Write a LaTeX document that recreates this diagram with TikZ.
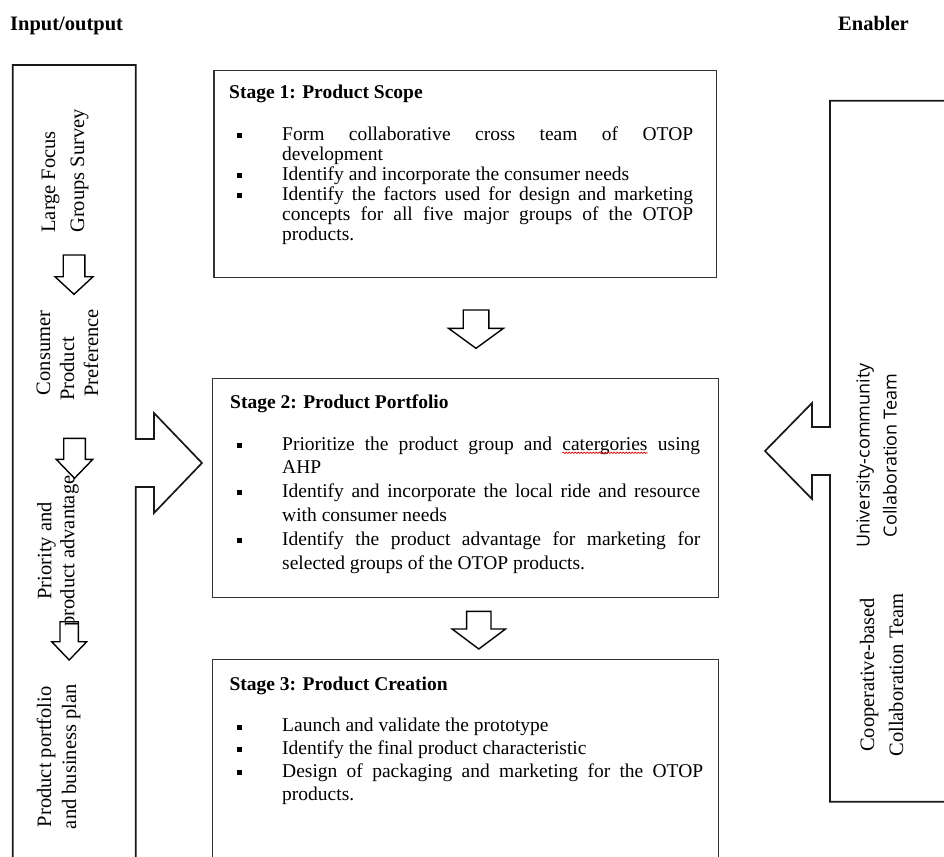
\documentclass[tikz,border=0pt]{standalone}
\usepackage{fontspec}
\setmainfont{Liberation Serif}
\newfontfamily\uisans{Open Sans}
\usetikzlibrary{decorations.pathmorphing}

% square bullet with a hanging gap before the item text
\newcommand\sqitem{\par\noindent\rule{0pt}{15pt}\llap{\rule[2.2pt]{5pt}{5.2pt}\hspace{39.8pt}}}
% word with a red wavy underline
\newcommand\squig[1]{\tikz[baseline=(w.base),x=1cm,y=1cm]{\node[inner sep=0pt,outer sep=0pt](w){#1};
  \draw[red!85!black,line width=0.7pt,decorate,decoration={snake,amplitude=0.7pt,segment length=3pt}]
  ([yshift=-2.8pt]w.base west) -- ([yshift=-2.8pt]w.base east);}}
% hollow block arrow pointing down: x, top y, shaft half width, head half width, shaft length, head length
\newcommand\hollowdown[6]{%
  \draw[hollow] (#1-#3,#2) -- (#1+#3,#2) -- (#1+#3,#2+#5) -- (#1+#4,#2+#5) -- (#1,#2+#5+#6)
    -- (#1-#4,#2+#5) -- (#1-#3,#2+#5) -- cycle;}

\tikzset{
  bracket/.style={draw=black!90,line width=1.7pt,line join=miter},
  stagebox/.style={draw=black!80,line width=1.2pt,inner sep=0pt,anchor=north west},
  hollow/.style={draw=black,line width=1.4pt,fill=white,line join=miter},
  heading/.style={font=\bfseries\fontsize{19.5}{20}\selectfont,inner sep=0pt,anchor=base west},
  colhead/.style={heading,font=\bfseries\fontsize{20.5}{21}\selectfont},
  items/.style={inner sep=0pt,anchor=north west,align=justify},
  sidetext/.style={rotate=90,align=center,inner sep=0pt},
}

\begin{document}
\begin{tikzpicture}[x=1pt,y=-1pt]
\useasboundingbox (0,0) rectangle (944,856);
\clip (0,0) rectangle (944,856);

% column headings
\node[colhead] (inout) at (10,31) {Input/output};
\node[colhead] (enabler) at (838,31) {Enabler};

% input/output bracket feeding stage 2
\draw[bracket] (12.7,875) -- (12.7,65) -- (135.7,65) -- (135.7,439) -- (154,439) -- (154,413)
  -- (202,463) -- (154,513) -- (154,487) -- (135.7,487) -- (135.7,875);

% enabler bracket feeding stage 2
\draw[bracket] (960,100.7) -- (830,100.7) -- (830,427) -- (812,427) -- (812,403) -- (765,451)
  -- (812,499) -- (812,475) -- (830,475) -- (830,801.7) -- (960,801.7);

% stage boxes
\node[stagebox,minimum width=502.7pt,minimum height=207pt] (stage1) at (213.3,70) {};
\node[stagebox,minimum width=506.3pt,minimum height=219pt] (stage2) at (211.7,378) {};
\node[stagebox,minimum width=506pt,minimum height=230pt] (stage3) at (212,659) {};

% flow between stages
\hollowdown{476}{310}{12.8}{27.5}{18.3}{20}
\hollowdown{478.8}{611.3}{12.2}{26.7}{17.7}{20}

% flow inside the input/output column
\hollowdown{74}{255}{10.8}{19}{21.7}{17.6}
\hollowdown{74.5}{438.3}{10.8}{18.3}{21}{19}
\hollowdown{69.2}{621.7}{9.2}{17.5}{20}{18.3}

% stage 1
\node[heading] (t1) at (229,99) {Stage 1: Product Scope};
\node[items,text width=411pt,font=\fontsize{19.5}{20}\selectfont] (i1) at (282,120) {%
\sqitem Form collaborative cross team of OTOP\linebreak development
\sqitem Identify and incorporate the consumer needs
\sqitem Identify the factors used for design and marketing\linebreak concepts for all five major groups of the OTOP\linebreak products.};

% stage 2
\node[heading] (t2) at (230,408.5) {Stage 2: Product Portfolio};
\node[items,text width=418pt,font=\fontsize{19.5}{23.8}\selectfont] (i2) at (282,426) {%
\sqitem Prioritize the product group and \squig{catergories} using\linebreak AHP
\sqitem Identify and incorporate the local ride and resource\linebreak with consumer needs
\sqitem Identify the product advantage for marketing for\linebreak selected groups of the OTOP products.};

% stage 3
\node[heading] (t3) at (229.3,690) {Stage 3: Product Creation};
\node[items,text width=421pt,font=\fontsize{19.5}{22.7}\selectfont] (i3) at (282,709) {%
\sqitem Launch and validate the prototype
\sqitem Identify the final product characteristic
\sqitem Design of packaging and marketing for the OTOP\linebreak products.};

% input/output column labels
\node[sidetext,font=\fontsize{20.5}{29}\selectfont] (focus) at (65,171) {Large Focus\rule{21.6pt}{0pt}\\Groups Survey};
\node[sidetext,font=\fontsize{20.5}{24}\selectfont] (pref) at (67.5,353) {Consumer\\Product\rule{32pt}{0pt}\\Preference};
\node[sidetext,font=\fontsize{20.5}{23}\selectfont] (prio) at (58,551) {Priority and\\product advantage};
\node[sidetext,font=\fontsize{20.5}{25}\selectfont] (plan) at (58.5,756.7) {Product portfolio\\and business plan};

% enabler column labels
\node[sidetext,font=\uisans\fontsize{18}{27}\selectfont] (univ) at (876.7,455.5) {University-community\\Collaboration Team};
\node[sidetext,font=\fontsize{20.5}{29}\selectfont] (coop) at (881.7,675) {Cooperative-based\\Collaboration Team};
\end{tikzpicture}
\end{document}
